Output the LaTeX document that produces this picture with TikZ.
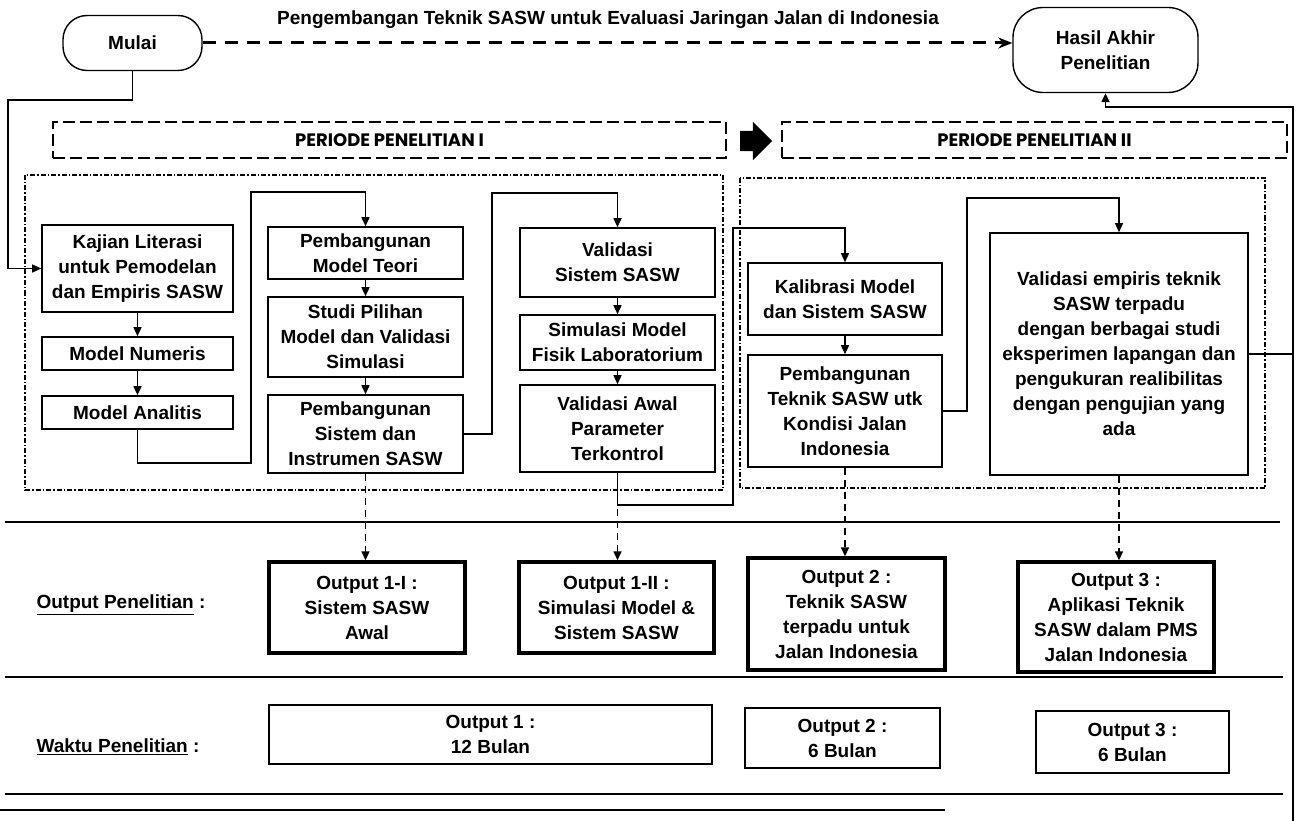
\documentclass[tikz,border=0pt]{standalone}
\usepackage{fontspec}
\setmainfont{Liberation Sans}
\newfontfamily\periodfont{Poppins}
\usetikzlibrary{arrows.meta,shapes.arrows}

\begin{document}
\begin{tikzpicture}[x=1pt,y=-1pt,
        txt/.style={font=\fontsize{19}{25}\selectfont\bfseries,align=center},
        box/.style={txt,draw,line width=1.6pt,inner sep=2pt},
        outbox/.style={box,line width=3.4pt},
        timebox/.style={box,line width=1.3pt},
        endbox/.style={box,line width=1.4pt,rounded corners=24pt},
        periodbox/.style={draw,line width=1.5pt,dash pattern=on 12pt off 5pt,font=\periodfont\fontsize{18}{20}\selectfont\bfseries},
        frame/.style={line width=1.3pt,dash pattern=on 5pt off 2pt on 1.5pt off 2pt},
        link/.style={line width=1.5pt,-{Triangle[length=9pt,width=8pt]}},
        outlink/.style={link,dash pattern=on 7pt off 5pt},
        sep/.style={line width=1.5pt}]
        \useasboundingbox (0,0) rectangle (1299,821);
        % start, end and title
        \node[endbox,minimum width=139pt,minimum height=55pt] (mulai) at (132.5,43) {Mulai};
        \node[endbox,rounded corners=30pt,minimum width=185pt,minimum height=85pt] (hasil) at (1105.5,50) {Hasil Akhir\\Penelitian};
        \node[txt] (title) at (608,20) {Pengembangan Teknik SASW untuk Evaluasi Jaringan Jalan di Indonesia};
        \draw[line width=3pt,dash pattern=on 13pt off 9pt,-{Stealth[length=14pt,width=11pt]}] (mulai.east) -- (mulai.east -| hasil.west);
        % periods
        \node[periodbox,minimum width=673pt,minimum height=36pt] (perI) at (389.5,140) {PERIODE PENELITIAN I};
        \node[periodbox,minimum width=505pt,minimum height=36pt] (perII) at (1034.5,140) {PERIODE PENELITIAN II};
        \node[single arrow,fill,inner sep=10pt,minimum height=32pt,single arrow head extend=9pt] (next) at (751,141) {};
        \draw[frame] (25,175) rectangle (723,490);
        \draw[frame] (740,178) rectangle (1265,488);
        % period I
        \node[box,minimum width=191pt,minimum height=87pt] (kajian) at (137.5,268.5) {Kajian Literasi\\untuk Pemodelan\\dan Empiris SASW};
        \node[box,minimum width=191pt,minimum height=33pt] (numeris) at (137.5,353.5) {Model Numeris};
        \node[box,minimum width=191pt,minimum height=33pt] (analitis) at (137.5,412.5) {Model Analitis};
        \node[box,minimum width=195pt,minimum height=52pt] (teori) at (365.5,253) {Pembangunan\\Model Teori};
        \node[box,minimum width=195pt,minimum height=80pt] (studi) at (365.5,337) {Studi Pilihan\\Model dan Validasi\\Simulasi};
        \node[box,minimum width=195pt,minimum height=78pt] (sistem) at (365.5,434) {Pembangunan\\Sistem dan\\Instrumen SASW};
        \node[box,minimum width=195pt,minimum height=69pt] (valsis) at (617.5,262.5) {Validasi\\Sistem SASW};
        \node[box,minimum width=195pt,minimum height=55pt] (simfis) at (617.5,342.5) {Simulasi Model\\Fisik Laboratorium};
        \node[box,minimum width=195pt,minimum height=87pt] (valawal) at (617.5,428.5) {Validasi Awal\\Parameter\\Terkontrol};
        % period II
        \node[box,minimum width=194pt,minimum height=72pt] (kalib) at (845,299) {Kalibrasi Model\\dan Sistem SASW};
        \node[box,minimum width=194pt,minimum height=112pt] (teknik) at (845,411) {Pembangunan\\Teknik SASW utk\\Kondisi Jalan\\Indonesia};
        \node[box,minimum width=258pt,minimum height=242pt] (empiris) at (1119,354) {Validasi empiris teknik\\SASW terpadu\\dengan berbagai studi\\eksperimen lapangan dan\\pengukuran realibilitas\\dengan pengujian yang\\ada};
        % flow
        \draw[link] (mulai.south) |- (8,100) |- (kajian.west);
        \foreach \a/\b in {kajian/numeris,numeris/analitis,teori/studi,studi/sistem,valsis/simfis,simfis/valawal,kalib/teknik}
            \draw[link] (\a) -- (\b);
        \draw[link] (analitis.south) |- (251,463) -- (251,192) -| (teori.north);
        \draw[link] (sistem.east) -| (492,193) -| (valsis.north);
        \draw[link] (valawal.south) |- (733,505) -- (733,228) -| (kalib.north);
        \draw[link] (teknik.east) -| (967,198) -| (empiris.north);
        \draw[link] (empiris.east) -| (1293,107) -| (hasil.south);
        % rows
        \foreach \y/\l in {522/1280,677/1283,794/1283}
            \draw[sep] (5,\y) -- (\l,\y);
        \draw[sep] (0,810) -- (945,810);
        \draw[sep] (1293,340) -- (1293,821);
        \node[txt,anchor=west] (rowout) at (33,605) {\underline{Output Penelitian} :};
        \node[txt,anchor=west] (rowtime) at (33,747) {\underline{Waktu Penelitian} :};
        % outputs
        \node[outbox,minimum width=196pt,minimum height=91pt] (out1) at (367,607.5) {Output 1-I :\\Sistem SASW\\Awal};
        \node[outbox,minimum width=195pt,minimum height=91pt] (out2) at (616.5,607.5) {Output 1-II :\\Simulasi Model \&\\Sistem SASW};
        \node[outbox,minimum width=197pt,minimum height=112pt] (out3) at (846.5,614) {Output 2 :\\Teknik SASW\\terpadu untuk\\Jalan Indonesia};
        \node[outbox,minimum width=196pt,minimum height=110pt] (out4) at (1116,617) {Output 3 :\\Aplikasi Teknik\\SASW dalam PMS\\Jalan Indonesia};
        \draw[outlink] (sistem.south) -- (sistem.south |- out1.north);
        \draw[outlink] (valawal.south) -- (valawal.south |- out2.north);
        \draw[outlink] (teknik.south) -- (teknik.south |- out3.north);
        \draw[outlink] (empiris.south) -- (empiris.south |- out4.north);
        % time
        \node[timebox,minimum width=443pt,minimum height=59pt] (time1) at (490.5,734.5) {Output 1 :\\12 Bulan};
        \node[timebox,minimum width=195pt,minimum height=60pt] (time2) at (842.5,738) {Output 2 :\\6 Bulan};
        \node[timebox,minimum width=193pt,minimum height=62pt] (time3) at (1132.5,742) {Output 3 :\\6 Bulan};
    \end{tikzpicture}
\end{document}
